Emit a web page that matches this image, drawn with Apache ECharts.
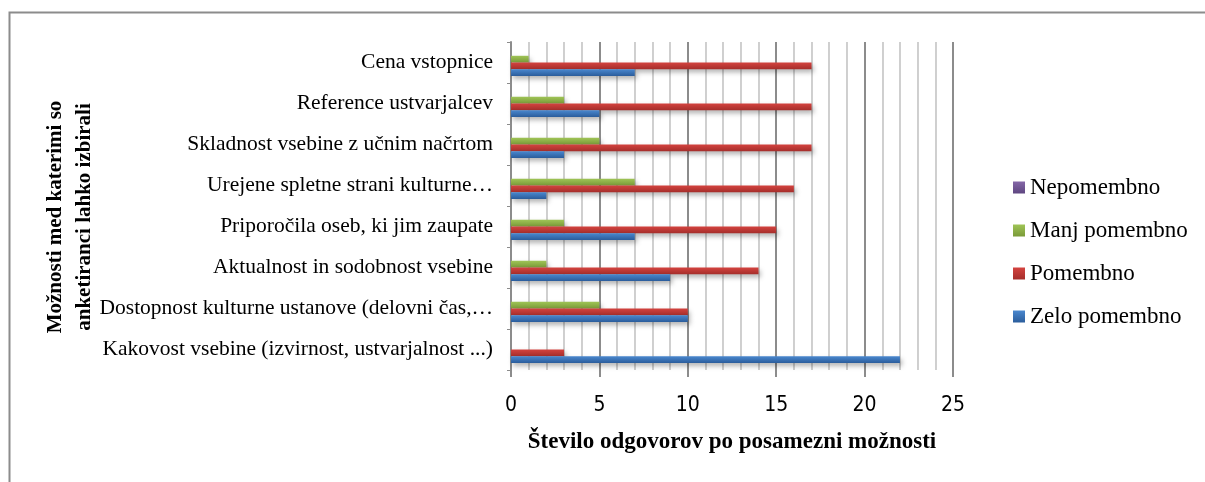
<!DOCTYPE html>
<html>
<head>
<meta charset="utf-8">
<script src="https://cdn.jsdelivr.net/npm/echarts@6/dist/echarts.min.js"></script>
<style>html,body{margin:0;padding:0;background:#fff;}#c{width:1205px;height:482px;}</style>
</head>
<body>
<div id="c"></div>
<script>
var categories = [
  'Kakovost vsebine (izvirnost, ustvarjalnost ...)',
  'Dostopnost kulturne ustanove (delovni čas,…',
  'Aktualnost in sodobnost vsebine',
  'Priporočila oseb, ki jim zaupate',
  'Urejene spletne strani kulturne…',
  'Skladnost vsebine z učnim načrtom',
  'Reference ustvarjalcev',
  'Cena vstopnice'
];
var zeloPomembno = [22, 10, 9, 7, 2, 3, 5, 7];
var pomembno     = [3, 10, 14, 15, 16, 17, 17, 17];
var manjPomembno = [0, 5, 2, 3, 7, 5, 3, 1];
var nepomembno   = [0, 0, 0, 0, 0, 0, 0, 0];
var xTicks = [0, 5, 10, 15, 20, 25];
var legendOrder = ['Nepomembno', 'Manj pomembno', 'Pomembno', 'Zelo pomembno'];
var yTitle = 'Možnosti med katerimi so\nanketiranci lahko izbirali';
var xTitle = 'Število odgovorov po posamezni možnosti';

var chart = echarts.init(document.getElementById('c'), null, {renderer: 'canvas'});
function grad(top, bottom) {
  return new echarts.graphic.LinearGradient(0, 0, 0, 1, [
    {offset: 0, color: top}, {offset: 1, color: bottom}
  ]);
}
function barSeries(name, data, top, bottom) {
  return {
    name: name, type: 'bar', data: data, barWidth: 6.7, barGap: '0%',
    itemStyle: {
      color: grad(top, bottom),
      shadowColor: 'rgba(0,0,0,0.3)', shadowBlur: 5, shadowOffsetX: 2, shadowOffsetY: 3
    }
  };
}
var serif = '"Liberation Serif", "Times New Roman", serif';
chart.setOption({
  animation: false,
  backgroundColor: '#fff',
  graphic: [{
    type: 'rect', shape: {x: 9.5, y: 12.5, width: 1220, height: 520},
    style: {fill: 'none', stroke: '#8c8c8c', lineWidth: 2}, silent: true
  }, {
    type: 'text', x: 70, y: 217, rotation: Math.PI / 2,
    style: {
      text: yTitle, fontFamily: serif, fontSize: 21, fontWeight: 'bold', fill: '#000',
      align: 'center', verticalAlign: 'middle', lineHeight: 29
    }
  }],
  grid: {left: 511, right: 252, top: 42, bottom: 112, containLabel: false},
  legend: {
    orient: 'vertical', left: 1008, top: 171, itemWidth: 12, itemHeight: 12, itemGap: 20,
    icon: 'rect',
    data: legendOrder,
    textStyle: {fontFamily: serif, fontSize: 23, color: '#000'}
  },
  xAxis: {
    type: 'value', min: 0, max: 25, interval: 5,
    name: xTitle, nameLocation: 'middle', nameGap: 61,
    nameTextStyle: {fontFamily: serif, fontSize: 23, fontWeight: 'bold', color: '#000'},
    axisLine: {show: false},
    axisTick: {show: true, length: 7, lineStyle: {color: '#8c8c8c', width: 2}},
    axisLabel: {
      margin: 25, fontFamily: '"Liberation Sans Narrow", "DejaVu Sans Condensed", sans-serif',
      fontSize: 21, color: '#000',
      formatter: function (v) { return xTicks.indexOf(v) >= 0 ? String(v) : ''; }
    },
    splitLine: {show: true, lineStyle: {color: '#8c8c8c', width: 2}},
    minorTick: {show: false, splitNumber: 5},
    minorSplitLine: {show: true, lineStyle: {color: '#c4c4c4', width: 1.6}}
  },
  yAxis: {
    type: 'category', data: categories,
    axisLine: {show: true, lineStyle: {color: '#8c8c8c', width: 2}},
    axisTick: {show: true, length: 4, lineStyle: {color: '#8c8c8c'}},
    axisLabel: {margin: 18, fontFamily: serif, fontSize: 21.5, color: '#000'},
    splitLine: {show: false}
  },
  series: [
    barSeries('Nepomembno', nepomembno, '#8567a8', '#5e4680'),
    barSeries('Manj pomembno', manjPomembno, '#9fc456', '#7a9a38'),
    barSeries('Pomembno', pomembno, '#d4433f', '#a52e2b'),
    barSeries('Zelo pomembno', zeloPomembno, '#4a88cf', '#2b5d9c')
  ]
});
</script>
</body>
</html>
